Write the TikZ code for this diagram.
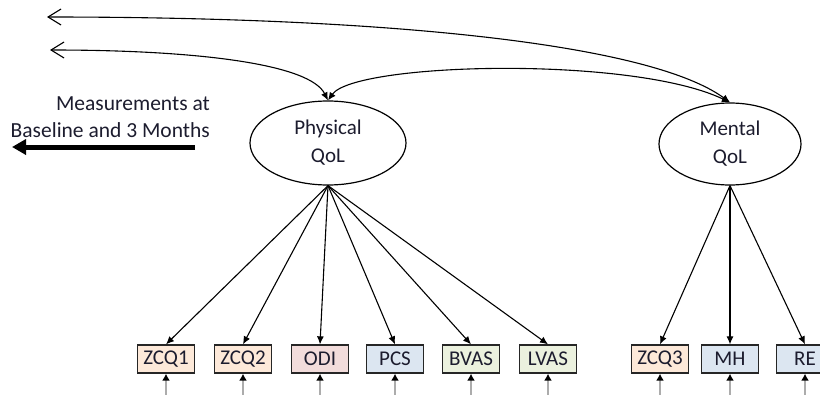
\documentclass[tikz,border=0pt]{standalone}
\usepackage{fontspec}
\setmainfont{Carlito}
\usepackage{tikz}
\usetikzlibrary{arrows.meta,positioning,shapes.geometric}
\definecolor{zcqfill}{HTML}{FDE9D9}
\definecolor{odifill}{HTML}{F2DCDB}
\definecolor{sffill}{HTML}{DCE6F1}
\definecolor{vasfill}{HTML}{EBF1DE}
\definecolor{inkdark}{HTML}{1C1C2E}

\begin{document}
\begin{tikzpicture}[x=1pt,y=-1pt,
  latent/.style={draw, ellipse, line width=1.2pt, minimum width=156pt, minimum height=84pt,
    inner sep=0pt, align=center, text=inkdark, font=\fontsize{21}{28}\selectfont},
  indicator/.style={draw=black!85, line width=1.3pt, minimum width=57pt, minimum height=28pt,
    inner sep=0pt, text=inkdark, font=\fontsize{21}{24}\selectfont},
  load/.style={-{Latex[length=8pt,width=7pt]}, line width=1.1pt},
  resid/.style={gray!65, line width=2pt, -{Latex[length=7pt,width=8pt,color=black]}},
  cov/.style={{Straight Barb[length=13pt,width=16pt]}-{Latex[length=8pt,width=7pt]}, line width=1.1pt}]
  \useasboundingbox (0,0) rectangle (820,394);
  \clip (0,0) rectangle (820,394);
  % Latent factors
  \node[latent] (phys) at (328,143) {Physical\\QoL};
  \node[latent, minimum width=142pt, minimum height=82pt] (ment) at (730,144) {Mental\\QoL};
  % Time label
  \node[align=right, anchor=east, inner sep=0pt, text=inkdark, font=\fontsize{21.5}{27}\selectfont]
    (meas) at (210,117) {Measurements at\\Baseline and 3 Months};
  \coordinate (timeS) at (195,147);
  \coordinate (timeE) at (12,147);
  \draw[line width=5pt, -{Triangle[length=14pt,width=15pt]}] (timeS) -- (timeE);
  % Indicators
  \node[indicator, fill=zcqfill] (zcqa) at (166,359) {ZCQ1};
  \node[indicator, fill=zcqfill] (zcqb) at (243,359) {ZCQ2};
  \node[indicator, fill=odifill] (odi) at (320,359) {ODI};
  \node[indicator, fill=sffill] (pcs) at (395,359) {PCS};
  \node[indicator, fill=vasfill] (bvas) at (471,359) {BVAS};
  \node[indicator, fill=vasfill] (lvas) at (548,359) {LVAS};
  \node[indicator, fill=zcqfill] (zcqc) at (660,359) {ZCQ3};
  \node[indicator, fill=sffill] (mh) at (730,359) {MH};
  \node[indicator, fill=sffill] (re) at (805,359) {RE};
  % Loadings
  \foreach \b in {zcqa,zcqb,odi,pcs,bvas,lvas}
    \draw[load] (phys.south) -- (\b.north);
  \foreach \b in {zcqc,mh,re}
    \draw[load] (ment.south) -- (\b.north);
  % Error terms
  \foreach \b in {zcqa,zcqb,odi,pcs,bvas,lvas,zcqc,mh,re} {
    \coordinate[below=30pt of \b.south] (\b err);
    \draw[resid] (\b err) -- (\b.south);
  }
  % Covariances across time
  \coordinate (farA) at (47,17);
  \coordinate (farB) at (50,50);
  \draw[cov] (farA) .. controls +(353,0) and +(-78,-57) .. (ment.north);
  \draw[cov] (farB) .. controls +(150,0) and +(-18,-36) .. (phys.north);
  \draw[{Latex[length=8pt,width=7pt]}-{Latex[length=8pt,width=7pt]}, line width=1.1pt]
    (phys.north) .. controls +(27,-38) and +(-98,-47) .. (ment.north);
\end{tikzpicture}
\end{document}
